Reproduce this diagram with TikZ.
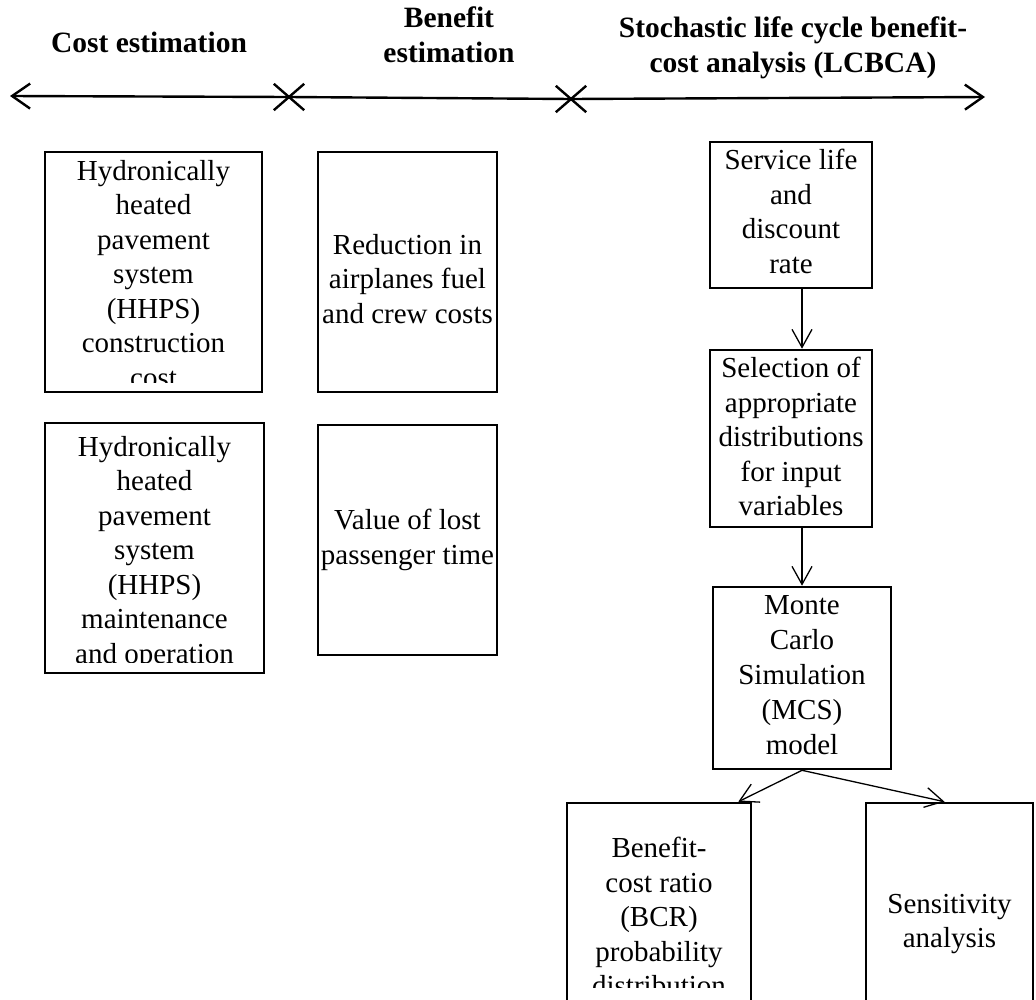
\documentclass[tikz,border=0pt]{standalone}
\usepackage{fontspec}
\setmainfont{Liberation Serif}
\usetikzlibrary{arrows.meta,shapes.misc}
\newcommand\bodyfnt{\fontsize{29}{34.5}\selectfont}
\newcommand\headfnt{\bfseries\fontsize{29.5}{34.5}\selectfont}
\tikzset{
  box/.style={draw, line width=2.6pt, fill=white, inner sep=0pt},
  txt/.style={inner sep=0pt, align=center, font=\bodyfnt, anchor=north},
  head/.style={inner sep=0pt, align=center, font=\headfnt},
  xmark/.style={cross out, draw, line width=2.4pt, minimum width=28pt, minimum height=24pt, inner sep=0pt},
  axis/.style={line width=2.4pt, {Straight Barb[length=18pt,width=25pt,line width=2.4pt]}-{Straight Barb[length=18pt,width=25pt,line width=2.4pt]}},
  conn/.style={line width=1.3pt, -{Straight Barb[length=18pt,width=20pt,line width=1.3pt]}}
}
\begin{document}
\begin{tikzpicture}[x=1pt,y=-1pt]
\useasboundingbox (0,0) rectangle (1036,999);
\clip (0,0) rectangle (1036,999);
% headers
\node[head, anchor=base] (hcost) at (149,52) {Cost estimation};
\node[head, anchor=north] (hben) at (449,7) {Benefit\\estimation};
\node[head, anchor=north] (hlc) at (793,17) {Stochastic life cycle benefit-\\cost analysis (LCBCA)};
% axis
\coordinate (lt) at (10,96);
\coordinate (rt) at (985,97);
\node[xmark] (x1) at (289,97) {};
\node[xmark] (x2) at (571,99) {};
\draw[axis] (lt) -- (x1.center) -- (x2.center) -- (rt);
% cost boxes
\node[box, minimum width=217pt, minimum height=240pt] (a1) at (153.5,272) {};
\begin{scope}
  \clip (45,152) rectangle (262,382);
  \node[txt] (a1t) at (153.5,160) {Hydronically\\heated\\pavement\\system\\(HHPS)\\construction\\cost};
\end{scope}
\node[box, minimum width=219pt, minimum height=250pt] (a2) at (154.5,548) {};
\begin{scope}
  \clip (45,423) rectangle (264,662);
  \node[txt] (a2t) at (154.5,436) {Hydronically\\heated\\pavement\\system\\(HHPS)\\maintenance\\and operation};
\end{scope}
% benefit boxes
\node[box, minimum width=179pt, minimum height=240pt] (b1) at (407.5,272) {};
\node[txt] (b1t) at (407.5,234) {Reduction in\\airplanes fuel\\and crew costs};
\node[box, minimum width=179pt, minimum height=230pt] (b2) at (407.5,540) {};
\node[txt] (b2t) at (407.5,509) {Value of lost\\passenger time};
% LCBCA boxes
\node[box, minimum width=162pt, minimum height=146pt] (c1) at (791,215) {};
\node[txt] (c1t) at (791,149) {Service life\\and\\discount\\rate};
\node[box, minimum width=162pt, minimum height=177pt] (c2) at (791,438.5) {};
\node[txt] (c2t) at (791,357) {Selection of\\appropriate\\distributions\\for input\\variables};
\node[box, minimum width=178pt, minimum height=182pt] (c3) at (802,678) {};
\node[txt, font=\fontsize{29}{35}\selectfont] (c3t) at (802,595) {Monte\\Carlo\\Simulation\\(MCS)\\model};
\node[box, minimum width=184pt, minimum height=232pt] (d1) at (659,919) {};
\begin{scope}
  \clip (567,803) rectangle (751,987);
  \node[txt] (d1t) at (659,837) {Benefit-\\cost ratio\\(BCR)\\probability\\distribution};
\end{scope}
\node[box, minimum width=167pt, minimum height=232pt] (d2) at (949.5,919) {};
\node[txt] (d2t) at (949.5,894) {Sensitivity\\analysis};
% connectors
\draw[conn] (c1.south -| c3.center) -- (c2.north -| c3.center);
\draw[conn] (c2.south -| c3.center) -- (c3.north);
\draw[conn] (c3.south) -- ([xshift=-14pt]d1.north east);
\draw[conn] (c3.south) -- ([xshift=-5pt]d2.north);
\end{tikzpicture}
\end{document}
